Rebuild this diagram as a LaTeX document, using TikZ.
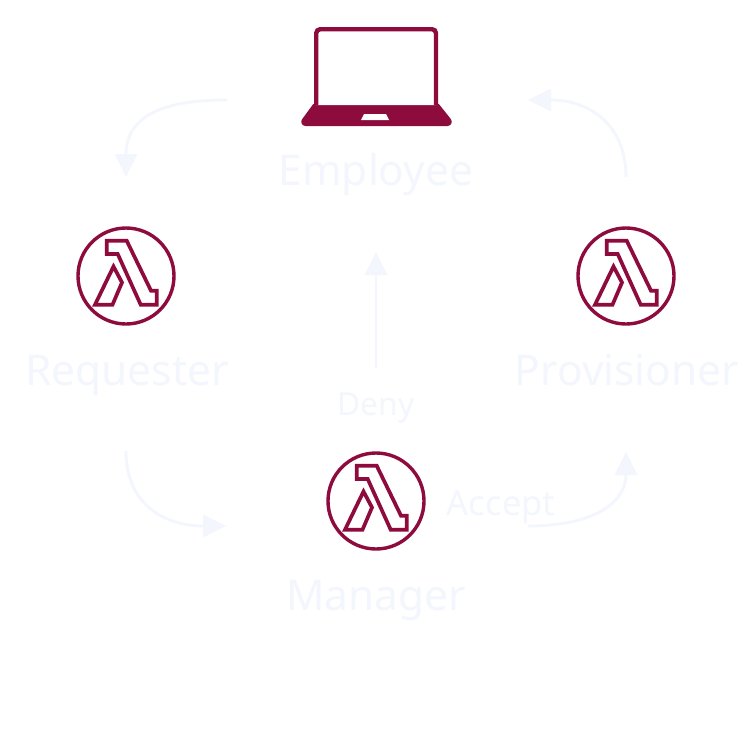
\documentclass[tikz,border=0pt]{standalone}
\usepackage{fontspec}
\setmainfont{Noto Sans}
\usetikzlibrary{arrows.meta}
\definecolor{crim}{HTML}{8E0B3D}
\definecolor{pale}{HTML}{F3F6FD}
\tikzset{
  x=1pt,y=-1pt,
  biglabel/.style={text=pale,font=\fontsize{42.4}{46}\selectfont,inner sep=0pt,anchor=base},
  smalllabel/.style={text=pale,font=\fontsize{31.7}{36}\selectfont,inner sep=0pt,anchor=base},
  acceptlabel/.style={text=pale,font=\fontsize{34.5}{38}\selectfont,inner sep=0pt,anchor=base},
  flow/.style={draw=pale,line width=2.8pt,-{Triangle[width=22pt,length=23pt]}},
  lambdaring/.style={circle,draw=crim,line width=3.4pt,minimum size=96pt,inner sep=0pt,fill=white},
  lambdaline/.style={draw=crim,line width=3.7pt,line join=miter},
}
\newcommand{\lambdaglyph}[1]{%
  \begin{scope}[shift={(#1)}]
    \draw[lambdaline] (-19.3,-35.3) -- (0.7,-35.3) -- (25,14.7) -- (30.7,14.7) -- (30.7,28.7) -- (14.7,28.7) -- (-8.3,-22) -- (-19.3,-22) -- cycle;
    \draw[lambdaline] (-12.5,-9.5) -- (-4,6.5) -- (-13.5,28.7) -- (-31,28.7) -- cycle;
  \end{scope}}
\begin{document}
\begin{tikzpicture}
\useasboundingbox[fill=white] (0,0) rectangle (753,753);
% laptop
\fill[crim,rounded corners=1.5pt] (314,103) -- (438,103) -- (450,118)
  .. controls (453,122) and (451,126) .. (446,126) -- (307,126)
  .. controls (302,126) and (300,122) .. (303,118) -- cycle;
\draw[crim,line width=4.4pt,rounded corners=4pt,fill=white] (316.2,105) -- (316.2,29.2) -- (436,29.2) -- (436,105);
\fill[white] (364,114) -- (386,114) -- (389,120) -- (361,120) -- cycle;
% icons
\node[lambdaring] (req) at (126,276) {};
\node[lambdaring] (prov) at (626,276) {};
\node[lambdaring] (mgr) at (376,501) {};
\lambdaglyph{126,276}
\lambdaglyph{626,276}
\lambdaglyph{376,501}
% labels
\node[biglabel] (employee) at (376,185) {Employee};
\node[biglabel] (requester) at (127,385) {Requester};
\node[biglabel] (provisioner) at (627,385) {Provisioner};
\node[biglabel] (manager) at (376,610) {Manager};
\node[smalllabel] (deny) at (376,415) {Deny};
\node[acceptlabel] (accept) at (501,515) {Accept};
% connector ends
\coordinate (a1) at (227,100); \coordinate (a2) at (126,177);
\coordinate (b1) at (626,177); \coordinate (b2) at (528,100);
\coordinate (c1) at (126,451); \coordinate (c2) at (226,526);
\coordinate (d1) at (528,526); \coordinate (d2) at (626,452);
\coordinate (e1) at (376,368); \coordinate (e2) at (376,252);
\draw[flow] (a1) .. controls (165,100) and (126,115) .. (a2);
\draw[flow] (b1) .. controls (626,125) and (590,100) .. (b2);
\draw[flow] (c1) .. controls (126,505) and (165,526) .. (c2);
\draw[flow] (d1) .. controls (590,526) and (626,505) .. (d2);
\draw[flow] (e1) -- (e2);
\end{tikzpicture}
\end{document}
